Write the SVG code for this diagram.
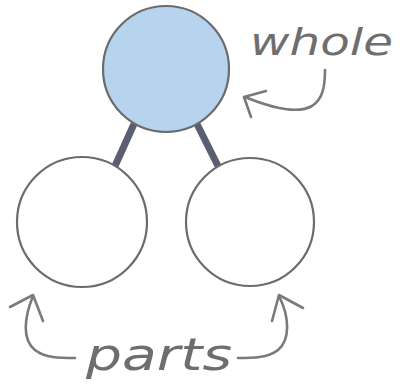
<svg xmlns="http://www.w3.org/2000/svg" width="400" height="390" viewBox="0 0 400 390">
<style>
.node{stroke:#6b6b6b;stroke-width:2.2;fill:#ffffff}
.whole{fill:#b7d4ee}
.link{stroke:#5a5e70;stroke-width:7;stroke-linecap:butt}
.note{fill:none;stroke:#7a7a7a;stroke-width:2.6;stroke-linecap:round;stroke-linejoin:round}
.lbl{font-family:"DejaVu Sans","Liberation Sans",sans-serif;font-weight:200;font-style:italic;fill:#6e6e6e}
</style>
<rect width="400" height="390" fill="#ffffff"/>
<g id="connectors">
<line class="link" x1="134" y1="124" x2="115" y2="166"/>
<line class="link" x1="197" y1="124" x2="218" y2="166"/>
</g>
<g id="node-whole">
<circle class="node whole" cx="166" cy="69" r="63"/>
</g>
<g id="node-part-left">
<circle class="node" cx="82" cy="222" r="65"/>
</g>
<g id="node-part-right">
<circle class="node" cx="250" cy="222" r="64"/>
</g>
<g id="label-whole">
<text class="lbl" x="250" y="55" font-size="38" textLength="143" lengthAdjust="spacingAndGlyphs">whole</text>
<path class="note" d="M325,70 C325,86 323,99 312,106 C298,114 272,108 245,97"/>
<path class="note" d="M266,91 L244,97 L251,117"/>
</g>
<g id="label-parts">
<text class="lbl" x="86" y="370" font-size="44" textLength="146" lengthAdjust="spacingAndGlyphs">parts</text>
<path class="note" d="M75,358 C60,358 45,358 35,350 C22,340 24,318 33,296"/>
<path class="note" d="M10,307 L33,295 L43,321"/>
<path class="note" d="M238,358 C252,358 268,358 278,350 C290,340 290,318 279,296"/>
<path class="note" d="M303,308 L279,295 L272,321"/>
</g>
</svg>
